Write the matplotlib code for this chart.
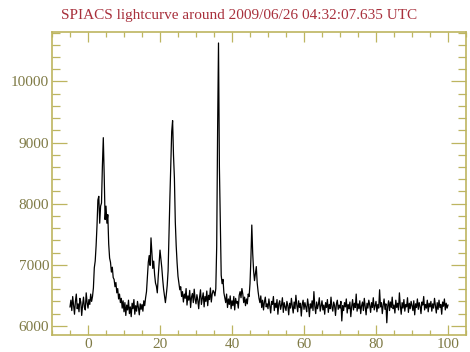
import numpy as np
import matplotlib
matplotlib.use('Agg')
import matplotlib.pyplot as plt
from matplotlib.ticker import MultipleLocator

# SPI-ACS counts per bin, time bins every 0.25 s from -5 s to 100 s
counts = [
    6310, 6420, 6250, 6480, 6330, 6190, 6400, 6520, 6280, 6360, 6230, 6450, 6390, 6170, 6340, 6470, 6300, 6260, 6540, 6380,
    6290, 6430, 6350, 6520, 6400, 6480, 6620, 6950, 7060, 7310, 7640, 8060, 8120, 7680, 7960, 8010, 8620, 9080, 8460, 7740,
    7960, 7680, 7820, 7340, 7110, 7040, 6880, 6960, 6790, 6760, 6640, 6710, 6540, 6610, 6440, 6520, 6380, 6450, 6290, 6410,
    6230, 6380, 6170, 6340, 6260, 6420, 6200, 6310, 6150, 6370, 6280, 6430, 6190, 6330, 6240, 6400, 6300, 6180, 6360, 6270,
    6350, 6240, 6410, 6330, 6460, 6560, 6810, 7040, 7150, 6990, 7440, 7200, 6940, 7060, 6840, 6700, 6650, 6540, 6800, 7010,
    7240, 7090, 6950, 6760, 6600, 6490, 6380, 6510, 6660, 6900, 7500, 8100, 8620, 9180, 9360, 8790, 8420, 7700, 7310, 7030,
    6810, 6700, 6590, 6640, 6480, 6560, 6390, 6520, 6450, 6610, 6340, 6490, 6420, 6580, 6300, 6470, 6530, 6380, 6600, 6440,
    6360, 6510, 6420, 6280, 6470, 6590, 6350, 6450, 6540, 6310, 6480, 6400, 6570, 6330, 6500, 6430, 6620, 6390, 6520, 6580,
    6550, 6490, 6610, 7300, 9200, 10630, 8600, 7700, 6830, 6690, 6760, 6540, 6460, 6380, 6520, 6300, 6440, 6350, 6490, 6280,
    6410, 6330, 6480, 6260, 6450, 6370, 6400, 6290, 6500, 6560, 6460, 6610, 6520, 6380, 6470, 6330, 6440, 6360, 6520, 6480,
    6690, 7100, 7650, 7190, 6900, 6740, 6860, 6970, 6700, 6560, 6450, 6380, 6490, 6300, 6420, 6260, 6390, 6470, 6310, 6360,
    6280, 6440, 6330, 6210, 6400, 6350, 6480, 6250, 6370, 6300, 6430, 6190, 6360, 6410, 6270, 6340, 6460, 6220, 6380, 6310,
    6250, 6400, 6330, 6180, 6370, 6290, 6450, 6320, 6210, 6390, 6280, 6500, 6340, 6230, 6410, 6300, 6370, 6160, 6350, 6420,
    6270, 6380, 6310, 6230, 6440, 6330, 6150, 6360, 6290, 6410, 6250, 6560, 6320, 6200, 6390, 6280, 6350, 6460, 6240, 6330,
    6410, 6260, 6340, 6190, 6380, 6300, 6430, 6220, 6350, 6280, 6470, 6310, 6240, 6390, 6330, 6170, 6360, 6420, 6270, 6340,
    6290, 6400, 6080, 6330, 6250, 6380, 6310, 6440, 6210, 6350, 6280, 6390, 6150, 6320, 6430, 6260, 6370, 6300, 6520, 6240,
    6360, 6280, 6410, 6200, 6330, 6390, 6250, 6450, 6310, 6180, 6370, 6290, 6420, 6340, 6220, 6380, 6300, 6460, 6260, 6330,
    6400, 6230, 6350, 6290, 6590, 6310, 6380, 6200, 6340, 6440, 6270, 6360, 6050, 6320, 6410, 6250, 6390, 6300, 6470, 6280,
    6340, 6210, 6420, 6300, 6370, 6260, 6540, 6330, 6190, 6380, 6290, 6430, 6240, 6350, 6310, 6460, 6220, 6370, 6280, 6400,
    6330, 6250, 6410, 6180, 6360, 6300, 6440, 6270, 6380, 6320, 6200, 6390, 6340, 6480, 6260, 6350, 6290, 6420, 6230, 6370,
    6310, 6400, 6240, 6360, 6290, 6450, 6330, 6210, 6380, 6270, 6420, 6300, 6350, 6190, 6390, 6320, 6440, 6260, 6370, 6290, 6340,
]
t_start = -5.0
t_step = 0.25
tempo = t_start + t_step * np.arange(len(counts))

titulo = 'SPIACS lightcurve around 2009/06/26 04:32:07.635 UTC'
x_ticks = [0, 20, 40, 60, 80, 100]
y_ticks = [6000, 7000, 8000, 9000, 10000]

cor_eixo = '#bdb560'
cor_label = '#7f7a45'
cor_titulo = '#a8303c'

plt.rcParams['font.family'] = ['Liberation Serif', 'DejaVu Serif']

fig = plt.figure(figsize=(4.70, 3.52), dpi=100)
ax = fig.add_axes([52 / 470, 1 - 335 / 352, 414 / 470, 303 / 352])

ax.plot(tempo, counts, color='black', linewidth=0.9)

ax.set_xlim(-10, 105)
ax.set_ylim(5850, 10810)
ax.set_xticks(x_ticks)
ax.set_yticks(y_ticks)
ax.xaxis.set_minor_locator(MultipleLocator(5))
ax.yaxis.set_minor_locator(MultipleLocator(200))

for s in ax.spines.values():
    s.set_color(cor_eixo)
    s.set_linewidth(1.2)

ax.tick_params(axis='both', which='both', direction='in', color=cor_eixo,
               top=True, right=True, width=0.9, labelcolor=cor_label, labelsize=11)
ax.tick_params(axis='x', which='major', length=7, pad=2)
ax.tick_params(axis='x', which='minor', length=3.6)
ax.tick_params(axis='y', which='major', length=11, pad=2)
ax.tick_params(axis='y', which='minor', length=5.5)

fig.text(239 / 470, 1 - 15 / 352, titulo, color=cor_titulo, fontsize=11,
         ha='center', va='center')

plt.savefig('out.png', dpi=100)
